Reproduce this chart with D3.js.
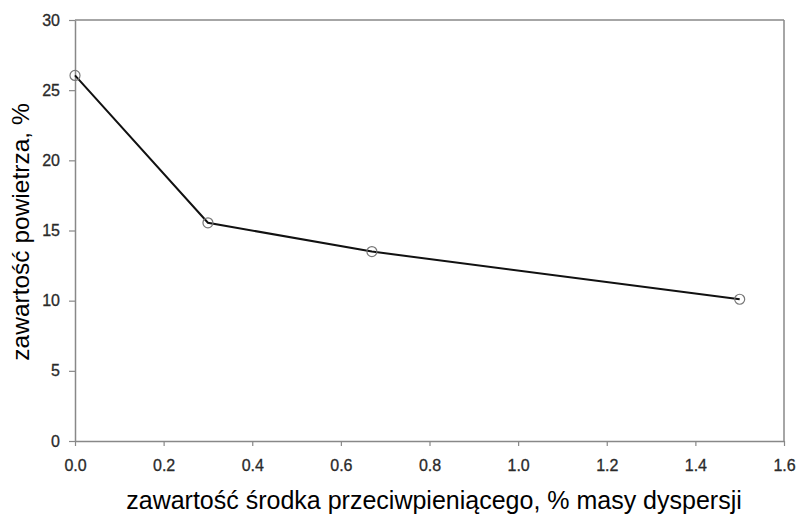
<!DOCTYPE html>
<html><head><meta charset="utf-8">
<script src="https://cdn.jsdelivr.net/npm/d3@7"></script>
<style>body{margin:0;background:#fff}svg{display:block}</style>
</head><body><svg id="c" width="798" height="515"></svg>
<script>
const xValues = [0.0, 0.3, 0.67, 1.5];
const yValues = [26.05, 15.55, 13.5, 10.1];
const xTicks = [0.0, 0.2, 0.4, 0.6, 0.8, 1.0, 1.2, 1.4, 1.6];
const yTicks = [0, 5, 10, 15, 20, 25, 30];
const xTitle = "zawartość środka przeciwpieniącego, % masy dyspersji";
const yTitle = "zawartość powietrza, %";

const svg = d3.select("#c");
const L = 75, R = 784, T = 20, B = 441;
const x = d3.scaleLinear().domain([0, 1.6]).range([L, R]);
const y = d3.scaleLinear().domain([0, 30]).range([B, T]);
const axisCol = "#888";
const font = "Arial, 'Liberation Sans', sans-serif";

svg.append("line").attr("x1", L).attr("x2", R).attr("y1", T).attr("y2", T).attr("stroke", axisCol).attr("stroke-width", 1.5);
svg.append("line").attr("x1", R).attr("x2", R).attr("y1", T).attr("y2", B).attr("stroke", axisCol).attr("stroke-width", 1.5);

const gx = svg.append("g").attr("transform", `translate(0,${B})`)
  .call(d3.axisBottom(x).tickValues(xTicks).tickFormat(d3.format(".1f")).tickSize(5).tickPadding(14).tickSizeOuter(0));
const gy = svg.append("g").attr("transform", `translate(${L},0)`)
  .call(d3.axisLeft(y).tickValues(yTicks).tickSize(6).tickPadding(9).tickSizeOuter(0));
[gx, gy].forEach(g => {
  g.select(".domain").attr("stroke", axisCol).attr("stroke-width", 1.5);
  g.selectAll(".tick line").attr("stroke", axisCol).attr("stroke-width", 1.2);
  g.selectAll(".tick text").attr("fill", "#2a2a2a").attr("font-family", font).attr("font-size", 16)
    .attr("stroke", "#2a2a2a").attr("stroke-width", 0.3);
});

const pts = xValues.map((v, i) => [v, yValues[i]]);
svg.append("path").datum(pts)
  .attr("d", d3.line().x(d => x(d[0])).y(d => y(d[1])))
  .attr("fill", "none").attr("stroke", "#111").attr("stroke-width", 2);
svg.selectAll("circle.m").data(pts).join("circle").attr("class", "m")
  .attr("cx", d => x(d[0])).attr("cy", d => y(d[1])).attr("r", 5)
  .attr("fill", "none").attr("stroke", "#777").attr("stroke-width", 1.2);

svg.append("text").attr("x", 434).attr("y", 509).attr("text-anchor", "middle")
  .attr("font-family", font).attr("font-size", 25).attr("fill", "#000").text(xTitle);
svg.append("text").attr("transform", `translate(29,232) rotate(-90)`).attr("text-anchor", "middle")
  .attr("font-family", font).attr("font-size", 24.5).attr("fill", "#000").text(yTitle);
</script></body></html>
